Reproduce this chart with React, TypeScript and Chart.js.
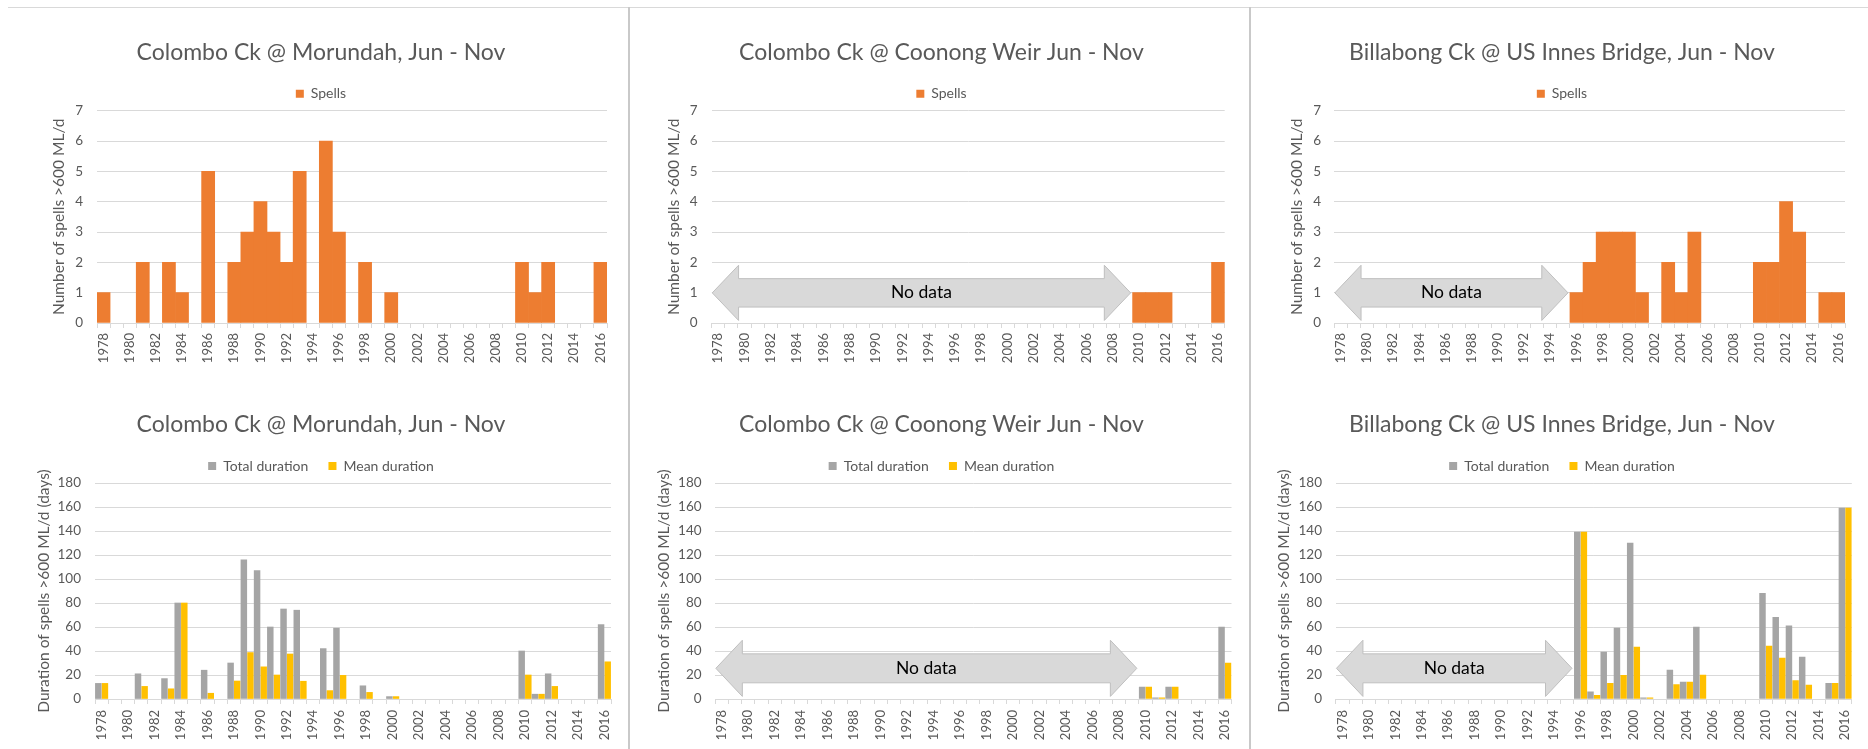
import React, { useEffect, useRef } from 'react';
import { Chart, registerables } from 'chart.js';

Chart.register(...registerables);

// ---------------- data ----------------
const years = ['1978', '1979', '1980', '1981', '1982', '1983', '1984', '1985', '1986', '1987', '1988', '1989', '1990', '1991', '1992', '1993', '1994', '1995', '1996', '1997', '1998', '1999', '2000', '2001', '2002', '2003', '2004', '2005', '2006', '2007', '2008', '2009', '2010', '2011', '2012', '2013', '2014', '2015', '2016'];
const yearTickLabels = ['1978', '1980', '1982', '1984', '1986', '1988', '1990', '1992', '1994', '1996', '1998', '2000', '2002', '2004', '2006', '2008', '2010', '2012', '2014', '2016'];
const spellTicks = [0, 1, 2, 3, 4, 5, 6, 7];
const durationTicks = [0, 20, 40, 60, 80, 100, 120, 140, 160, 180];

const morundahSpells = [1, 0, 0, 2, 0, 2, 1, 0, 5, 0, 2, 3, 4, 3, 2, 5, 0, 6, 3, 0, 2, 0, 1, 0, 0, 0, 0, 0, 0, 0, 0, 0, 2, 1, 2, 0, 0, 0, 2];
const morundahTotal = [13, 0, 0, 21, 0, 17, 80, 0, 24, 0, 30, 116, 107, 60, 75, 74, 0, 42, 59, 0, 11, 0, 2, 0, 0, 0, 0, 0, 0, 0, 0, 0, 40, 4, 21, 0, 0, 0, 62];
const morundahMean = [13, 0, 0, 10.5, 0, 8.5, 80, 0, 4.8, 0, 15, 38.7, 26.8, 20, 37.5, 14.8, 0, 7, 19.7, 0, 5.5, 0, 2, 0, 0, 0, 0, 0, 0, 0, 0, 0, 20, 4, 10.5, 0, 0, 0, 31];

const coonongSpells = [null, null, null, null, null, null, null, null, null, null, null, null, null, null, null, null, null, null, null, null, null, null, null, null, null, null, null, null, null, null, null, null, 1, 1, 1, 0, 0, 0, 2];
const coonongTotal = [null, null, null, null, null, null, null, null, null, null, null, null, null, null, null, null, null, null, null, null, null, null, null, null, null, null, null, null, null, null, null, null, 10, 1, 10, 0, 0, 0, 60];
const coonongMean = [null, null, null, null, null, null, null, null, null, null, null, null, null, null, null, null, null, null, null, null, null, null, null, null, null, null, null, null, null, null, null, null, 10, 1, 10, 0, 0, 0, 30];

const billabongSpells = [null, null, null, null, null, null, null, null, null, null, null, null, null, null, null, null, null, null, 1, 2, 3, 3, 3, 1, 0, 2, 1, 3, 0, 0, 0, 0, 2, 2, 4, 3, 0, 1, 1];
const billabongTotal = [null, null, null, null, null, null, null, null, null, null, null, null, null, null, null, null, null, null, 139, 6, 39, 59, 130, 1, 0, 24, 14, 60, 0, 0, 0, 0, 88, 68, 61, 35, 0, 13, 159];
const billabongMean = [null, null, null, null, null, null, null, null, null, null, null, null, null, null, null, null, null, null, 139, 3, 13, 19.7, 43.3, 1, 0, 12, 14, 20, 0, 0, 0, 0, 44, 34, 15.3, 11.7, 0, 13, 159];

const titleMorundah = 'Colombo Ck @ Morundah, Jun - Nov';
const titleCoonong = 'Colombo Ck @ Coonong Weir Jun - Nov';
const titleBillabong = 'Billabong Ck @ US Innes Bridge, Jun - Nov';
const yTitleSpells = 'Number of spells >600 ML/d';
const yTitleDuration = 'Duration of spells >600 ML/d (days)';
const spellsLabel = 'Spells';
const totalLabel = 'Total duration';
const meanLabel = 'Mean duration';
const noDataText = 'No data';
const coonongNoData = ['1978', '2010'];
const billabongNoData = ['1978', '1996'];

// ---------------- styles ----------------
const FONT = 'Lato, "Noto Sans", sans-serif';
const TEXT_COLOR = '#595959';
const GRID_COLOR = '#D9D9D9';
const ORANGE = '#ED7D31';
const GRAY = '#A5A5A5';
const GOLD = '#FFC000';
const TITLE_SIZE = 23;
const LEGEND_SIZE = 14;
const YTICK_SIZE = 13.5;
const XTICK_SIZE = 13;
const AXIS_TITLE_SIZE = 15.5;
const NODATA_SIZE = 17.5;

const ROWS = [
  { top: 8, height: 368, titleY: 37, legendY: 78, plotTop: 110.7, plotBottom: 323, xLabelGap: 10 },
  { top: 376, height: 373, titleY: 408, legendY: 449, plotTop: 483, plotBottom: 699, xLabelGap: 11 },
];
const COLS = [
  { left: 0, width: 628 },
  { left: 630, width: 619 },
  { left: 1251, width: 617 },
];

type PanelDef = {
  col: number; row: number; title: string; kind: 'spells' | 'duration';
  series: (number | null)[][]; noData?: string[];
  plotL: number; plotR: number; titleX: number; yTitleX: number; tickRight: number;
};

const PANELS: PanelDef[] = [
  { col: 0, row: 0, title: titleMorundah, kind: 'spells', series: [morundahSpells], plotL: 97, plotR: 607, titleX: 321, yTitleX: 59, tickRight: 83 },
  { col: 0, row: 1, title: titleMorundah, kind: 'duration', series: [morundahTotal, morundahMean], plotL: 95, plotR: 611, titleX: 321, yTitleX: 43.5, tickRight: 81 },
  { col: 1, row: 0, title: titleCoonong, kind: 'spells', series: [coonongSpells], noData: coonongNoData, plotL: 711.6, plotR: 1224.7, titleX: 941.5, yTitleX: 674, tickRight: 697.5 },
  { col: 1, row: 1, title: titleCoonong, kind: 'duration', series: [coonongTotal, coonongMean], noData: coonongNoData, plotL: 715.2, plotR: 1231.5, titleX: 941.5, yTitleX: 664, tickRight: 701.6 },
  { col: 2, row: 0, title: titleBillabong, kind: 'spells', series: [billabongSpells], noData: billabongNoData, plotL: 1334.2, plotR: 1845, titleX: 1562, yTitleX: 1297, tickRight: 1321 },
  { col: 2, row: 1, title: titleBillabong, kind: 'duration', series: [billabongTotal, billabongMean], noData: billabongNoData, plotL: 1335.8, plotR: 1851.8, titleX: 1562, yTitleX: 1284, tickRight: 1322 },
];

const ARROW = { tipInset: 0.05, endInset: 0.15, center: 0.142, headHalf: 0.13, shaftHalf: 0.067, headLength: 2.0, fill: '#D9D9D9', stroke: '#BFBFBF', textColor: '#000000' };

const noDataArrowPlugin = {
  id: 'noDataArrow',
  afterDatasetsDraw(chart: any, _args: any, opts: any) {
    if (!opts || opts.fromIndex == null || opts.fromIndex < 0) return;
    const { ctx, chartArea } = chart;
    const x = chart.scales.x;
    const step = x.getPixelForValue(1) - x.getPixelForValue(0);
    const edge = (i: number) => x.getPixelForValue(i) - step / 2;
    const xl = edge(opts.fromIndex) + ARROW.tipInset * step;
    const xr = edge(opts.toIndex) - ARROW.endInset * step;
    const h = chartArea.bottom - chartArea.top;
    const cy = chartArea.bottom - ARROW.center * h;
    const hh = ARROW.headHalf * h;
    const sh = ARROW.shaftHalf * h;
    const hl = ARROW.headLength * step;
    ctx.save();
    ctx.beginPath();
    ctx.moveTo(xl, cy);
    ctx.lineTo(xl + hl, cy - hh);
    ctx.lineTo(xl + hl, cy - sh);
    ctx.lineTo(xr - hl, cy - sh);
    ctx.lineTo(xr - hl, cy - hh);
    ctx.lineTo(xr, cy);
    ctx.lineTo(xr - hl, cy + hh);
    ctx.lineTo(xr - hl, cy + sh);
    ctx.lineTo(xl + hl, cy + sh);
    ctx.lineTo(xl + hl, cy + hh);
    ctx.closePath();
    ctx.fillStyle = ARROW.fill;
    ctx.fill();
    ctx.strokeStyle = ARROW.stroke;
    ctx.lineWidth = 1;
    ctx.stroke();
    ctx.fillStyle = ARROW.textColor;
    ctx.font = `${NODATA_SIZE}px ${FONT}`;
    ctx.textAlign = 'center';
    ctx.textBaseline = 'middle';
    ctx.fillText(opts.text, (xl + xr) / 2, cy);
    ctx.restore();
  },
};

// zero-height bars must not leave a hairline at the baseline
const inflateNonZero = (c: any) => (c.raw ? 0.33 : 0);

function buildConfig(p: PanelDef) {
  const row = ROWS[p.row];
  const col = COLS[p.col];
  const X0 = col.left;
  const W = col.width;
  const Y0 = row.top;
  const padR = X0 + W - p.plotR;
  const padL = 2 * (p.titleX - X0) - W + padR;
  const yWidth = p.plotL - X0 - padL;
  const yTitlePad = p.yTitleX - (X0 + padL) - (AXIS_TITLE_SIZE * 1.2) / 2;
  const tickPad = p.plotL - p.tickRight;
  const topPad = row.plotTop - Y0;
  const xHeight = Y0 + row.height - row.plotBottom;
  const titleLH = TITLE_SIZE * 1.2;
  const titlePadTop = row.titleY - Y0 - titleLH / 2;
  const legendTop = titlePadTop + titleLH;
  const legendPad = row.legendY - Y0 - legendTop - LEGEND_SIZE / 2;

  const isSpells = p.kind === 'spells';
  const yTicks = isSpells ? spellTicks : durationTicks;
  const datasets = isSpells
    ? [{ label: spellsLabel, data: p.series[0], backgroundColor: ORANGE, borderWidth: 0, inflateAmount: inflateNonZero, categoryPercentage: 1, barPercentage: 1 }]
    : [
        { label: totalLabel, data: p.series[0], backgroundColor: GRAY, borderWidth: 0, inflateAmount: inflateNonZero, categoryPercentage: 1, barPercentage: 0.88 },
        { label: meanLabel, data: p.series[1], backgroundColor: GOLD, borderWidth: 0, inflateAmount: inflateNonZero, categoryPercentage: 1, barPercentage: 0.88 },
      ];

  return {
    type: 'bar' as const,
    data: { labels: years, datasets },
    plugins: p.noData ? [noDataArrowPlugin] : [],
    options: {
      responsive: false,
      animation: false as const,
      devicePixelRatio: 1,
      layout: { padding: { left: padL, right: padR, top: 0, bottom: 0 } },
      plugins: {
        title: {
          display: true, text: p.title, color: TEXT_COLOR,
          font: { family: FONT, size: TITLE_SIZE, weight: 'normal' as const },
          padding: { top: titlePadTop, bottom: 0 },
        },
        legend: {
          display: true, position: 'top' as const,
          labels: { boxWidth: 8, boxHeight: 8, padding: legendPad, color: TEXT_COLOR, font: { family: FONT, size: LEGEND_SIZE } },
        },
        tooltip: { enabled: false },
        noDataArrow: p.noData
          ? { fromIndex: years.indexOf(p.noData[0]), toIndex: years.indexOf(p.noData[1]), text: noDataText }
          : {},
      },
      scales: {
        x: {
          type: 'category' as const,
          offset: true,
          grid: { display: true, drawOnChartArea: false, drawTicks: true, tickLength: 5, color: GRID_COLOR, offset: true },
          border: { display: true, color: GRID_COLOR },
          ticks: {
            autoSkip: false, minRotation: 90, maxRotation: 90, padding: row.xLabelGap - 5,
            color: TEXT_COLOR, font: { family: FONT, size: XTICK_SIZE },
            callback: (_v: any, index: number) => (yearTickLabels.includes(years[index]) ? years[index] : ''),
          },
          afterFit: (scale: any) => { scale.height = xHeight; scale.paddingLeft = 0; scale.paddingRight = 0; },
        },
        y: {
          min: yTicks[0], max: yTicks[yTicks.length - 1],
          ticks: { stepSize: yTicks[1] - yTicks[0], padding: tickPad, color: TEXT_COLOR, font: { family: FONT, size: YTICK_SIZE } },
          grid: { color: GRID_COLOR, drawTicks: false },
          border: { display: false },
          title: {
            display: true, text: isSpells ? yTitleSpells : yTitleDuration, color: TEXT_COLOR,
            font: { family: FONT, size: AXIS_TITLE_SIZE }, padding: { top: yTitlePad, bottom: 0 },
          },
          afterFit: (scale: any) => { scale.width = yWidth; scale.paddingTop = topPad; },
        },
      },
    },
  };
}

export default function App() {
  const refs = useRef<(HTMLCanvasElement | null)[]>([]);
  useEffect(() => {
    const charts = PANELS.map((p, i) => new Chart(refs.current[i] as HTMLCanvasElement, buildConfig(p) as any));
    return () => charts.forEach((c) => c.destroy());
  }, []);
  return (
    <div style={{ position: 'absolute', left: 0, top: 0, width: 1868, height: 749, background: '#ffffff', overflow: 'hidden' }}>
      {PANELS.map((p, i) => {
        const col = COLS[p.col];
        const row = ROWS[p.row];
        return (
          <canvas
            key={i}
            ref={(el) => { refs.current[i] = el; }}
            width={col.width}
            height={row.height}
            style={{ position: 'absolute', left: col.left, top: row.top, width: col.width, height: row.height }}
          />
        );
      })}
      <div style={{ position: 'absolute', left: 8, top: 7, width: 1860, height: 1, background: '#D9D9D9' }} />
      <div style={{ position: 'absolute', left: 628, top: 7, width: 2, height: 742, background: '#C9C9C9' }} />
      <div style={{ position: 'absolute', left: 1249, top: 7, width: 2, height: 742, background: '#C9C9C9' }} />
    </div>
  );
}
